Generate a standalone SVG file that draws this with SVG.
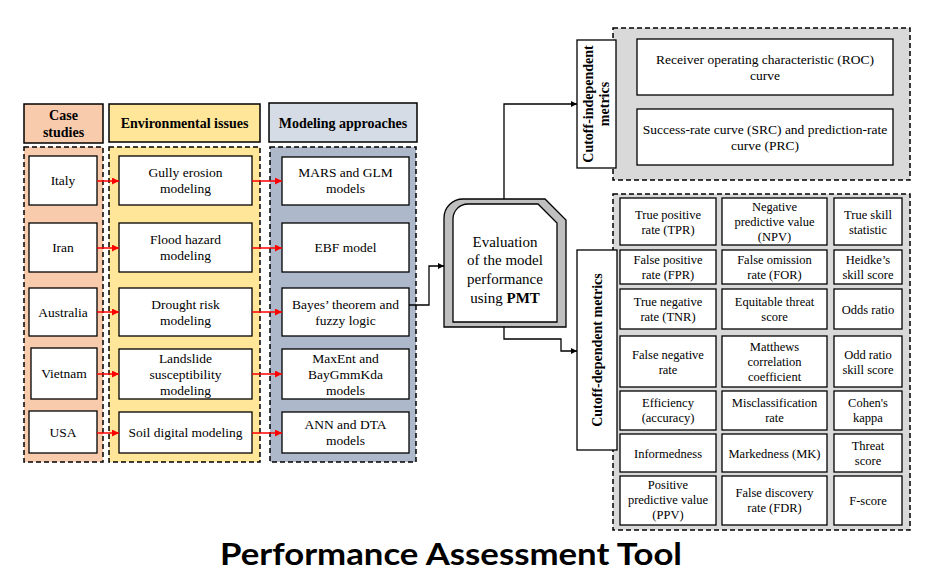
<svg xmlns="http://www.w3.org/2000/svg" width="935" height="587" viewBox="0 0 935 587">
<defs>
<marker id="ar" viewBox="0 0 10 10" refX="10" refY="5" markerWidth="7" markerHeight="7" markerUnits="userSpaceOnUse" orient="auto"><path d="M0,0 L10,5 L0,10 Z" fill="#ff0000"/></marker>
<marker id="ab" viewBox="0 0 10 10" refX="10" refY="5" markerWidth="6" markerHeight="6" markerUnits="userSpaceOnUse" orient="auto"><path d="M0,0 L10,5 L0,10 Z" fill="#000"/></marker>
<style>
text{fill:#000;text-anchor:middle}
.t{font-size:13.5px}
.m{font-size:12.5px}
.h{font-size:14px;font-weight:bold}
.box{fill:#fff;stroke:#000;stroke-width:1.3}
.hd{stroke:#000;stroke-width:1.5}
.dash{stroke:#000;stroke-width:1.5;stroke-dasharray:5,3}
.red{stroke:#ff0000;stroke-width:1.5;fill:none;marker-end:url(#ar)}
.blk{stroke:#000;stroke-width:1.3;fill:none;marker-end:url(#ab)}
.title{font-weight:bold;font-size:31px}
</style>
</defs>
<rect width="935" height="587" fill="#fff"/>

<g id="case-studies">
<rect x="24" y="104" width="79" height="39" fill="#f8cbad" class="hd"/>
<text font-family="Liberation Serif" class="h" x="63.5" y="120">Case</text>
<text font-family="Liberation Serif" class="h" x="63.5" y="137">studies</text>
<rect x="24" y="147" width="79" height="315" fill="#f8cbad" class="dash"/>
<g id="italy"><rect class="box" x="29" y="156" width="68" height="49"/><text font-family="Liberation Serif" class="t" x="63" y="185">Italy</text></g>
<g id="iran"><rect class="box" x="29" y="223" width="68" height="49"/><text font-family="Liberation Serif" class="t" x="63" y="252">Iran</text></g>
<g id="australia"><rect class="box" x="29" y="288" width="68" height="48"/><text font-family="Liberation Serif" class="t" x="63" y="317">Australia</text></g>
<g id="vietnam"><rect class="box" x="31" y="348" width="66" height="51"/><text font-family="Liberation Serif" class="t" x="64" y="378">Vietnam</text></g>
<g id="usa"><rect class="box" x="29" y="411" width="68" height="42"/><text font-family="Liberation Serif" class="t" x="63" y="437">USA</text></g>
</g>

<g id="environmental-issues">
<rect x="109" y="104" width="151" height="38" fill="#ffe699" class="hd"/>
<text font-family="Liberation Serif" class="h" x="184.5" y="128">Environmental issues</text>
<rect x="109" y="147" width="151" height="315" fill="#ffe699" class="dash"/>
<g id="gully"><rect class="box" x="119" y="156" width="133" height="49"/><text font-family="Liberation Serif" class="t" x="185.5" y="177">Gully erosion</text><text font-family="Liberation Serif" class="t" x="185.5" y="193">modeling</text></g>
<g id="flood"><rect class="box" x="119" y="223" width="133" height="49"/><text font-family="Liberation Serif" class="t" x="185.5" y="244">Flood hazard</text><text font-family="Liberation Serif" class="t" x="185.5" y="260">modeling</text></g>
<g id="drought"><rect class="box" x="119" y="288" width="133" height="48"/><text font-family="Liberation Serif" class="t" x="185.5" y="309">Drought risk</text><text font-family="Liberation Serif" class="t" x="185.5" y="325">modeling</text></g>
<g id="landslide"><rect class="box" x="119" y="349" width="133" height="50"/><text font-family="Liberation Serif" class="t" x="185.5" y="363">Landslide</text><text font-family="Liberation Serif" class="t" x="185.5" y="379">susceptibility</text><text font-family="Liberation Serif" class="t" x="185.5" y="395">modeling</text></g>
<g id="soil"><rect class="box" x="119" y="412" width="133" height="41"/><text font-family="Liberation Serif" class="t" x="185.5" y="437">Soil digital modeling</text></g>
</g>

<g id="modeling-approaches">
<rect x="269" y="103" width="148" height="39" fill="#d6dce5" class="hd"/>
<text font-family="Liberation Serif" class="h" x="343" y="128">Modeling approaches</text>
<rect x="270" y="147" width="146" height="315" fill="#adb9ca" class="dash"/>
<g id="mars"><rect class="box" x="282" y="157" width="127" height="48"/><text font-family="Liberation Serif" class="t" x="345.5" y="177">MARS and GLM</text><text font-family="Liberation Serif" class="t" x="345.5" y="193">models</text></g>
<g id="ebf"><rect class="box" x="282" y="223" width="127" height="49"/><text font-family="Liberation Serif" class="t" x="345.5" y="252">EBF model</text></g>
<g id="bayes"><rect class="box" x="282" y="288" width="127" height="48"/><text font-family="Liberation Serif" class="t" x="345.5" y="309">Bayes’ theorem and</text><text font-family="Liberation Serif" class="t" x="345.5" y="325">fuzzy logic</text></g>
<g id="maxent"><rect class="box" x="282" y="349" width="127" height="50"/><text font-family="Liberation Serif" class="t" x="345.5" y="363">MaxEnt and</text><text font-family="Liberation Serif" class="t" x="345.5" y="379">BayGmmKda</text><text font-family="Liberation Serif" class="t" x="345.5" y="395">models</text></g>
<g id="ann"><rect class="box" x="282" y="412" width="127" height="41"/><text font-family="Liberation Serif" class="t" x="345.5" y="429">ANN and DTA</text><text font-family="Liberation Serif" class="t" x="345.5" y="445">models</text></g>
</g>

<g id="evaluation">
<path d="M444,218 A19,19 0 0 1 463,199 L545,199 L566,220 L566,327 L444,327 Z" fill="#bfbfbf" stroke="#000" stroke-width="1.3"/>
<path d="M453,219 A15,15 0 0 1 468,204 L538,204 L557,223 L557,322 L453,322 Z" fill="#fff" stroke="#000" stroke-width="1.3"/>
<text font-family="Liberation Serif" x="505" y="247" font-size="15">Evaluation</text>
<text font-family="Liberation Serif" x="505" y="265" font-size="15">of the model</text>
<text font-family="Liberation Serif" x="505" y="284" font-size="15">performance</text>
<text font-family="Liberation Serif" x="505" y="303" font-size="15">using <tspan font-weight="bold">PMT</tspan></text>
</g>

<g id="cutoff-independent">
<rect x="613" y="28" width="297" height="152" fill="#d9d9d9" class="dash"/>
<rect class="box" x="577" y="40" width="39" height="128"/>
<text font-family="Liberation Serif" class="h" transform="translate(596,104) rotate(-90)" x="0" y="-3">Cutoff-independent</text>
<text font-family="Liberation Serif" class="h" transform="translate(596,104) rotate(-90)" x="0" y="13">metrics</text>
<g id="roc"><rect class="box" x="637" y="39" width="256" height="56"/><text font-family="Liberation Serif" class="t" x="765" y="64">Receiver operating characteristic (ROC)</text><text font-family="Liberation Serif" class="t" x="765" y="80">curve</text></g>
<g id="src"><rect class="box" x="637" y="109" width="256" height="56"/><text font-family="Liberation Serif" class="t" x="765" y="134">Success-rate curve (SRC) and prediction-rate</text><text font-family="Liberation Serif" class="t" x="765" y="150">curve (PRC)</text></g>
</g>

<g id="cutoff-dependent">
<rect x="613" y="194" width="297" height="336" fill="#d9d9d9" class="dash"/>
<rect class="box" x="577" y="250" width="40" height="200"/>
<text font-family="Liberation Serif" class="h" transform="translate(597,350) rotate(-90)" x="0" y="5">Cutoff-dependent metrics</text>

<g id="r1">
<rect class="box" x="620" y="198" width="96" height="47"/><text font-family="Liberation Serif" class="m" x="668" y="219">True positive</text><text font-family="Liberation Serif" class="m" x="668" y="234">rate (TPR)</text>
<rect class="box" x="722" y="198" width="105" height="47"/><text font-family="Liberation Serif" class="m" x="774.5" y="211">Negative</text><text font-family="Liberation Serif" class="m" x="774.5" y="226">predictive value</text><text font-family="Liberation Serif" class="m" x="774.5" y="241">(NPV)</text>
<rect class="box" x="834" y="198" width="68" height="47"/><text font-family="Liberation Serif" class="m" x="868" y="219">True skill</text><text font-family="Liberation Serif" class="m" x="868" y="234">statistic</text>
</g>
<g id="r2">
<rect class="box" x="620" y="250" width="96" height="34"/><text font-family="Liberation Serif" class="m" x="668" y="264">False positive</text><text font-family="Liberation Serif" class="m" x="668" y="279">rate (FPR)</text>
<rect class="box" x="722" y="250" width="105" height="34"/><text font-family="Liberation Serif" class="m" x="774.5" y="264">False omission</text><text font-family="Liberation Serif" class="m" x="774.5" y="279">rate (FOR)</text>
<rect class="box" x="834" y="250" width="68" height="34"/><text font-family="Liberation Serif" class="m" x="868" y="264">Heidke’s</text><text font-family="Liberation Serif" class="m" x="868" y="279">skill score</text>
</g>
<g id="r3">
<rect class="box" x="620" y="289" width="96" height="40"/><text font-family="Liberation Serif" class="m" x="668" y="306">True negative</text><text font-family="Liberation Serif" class="m" x="668" y="321">rate (TNR)</text>
<rect class="box" x="722" y="289" width="105" height="40"/><text font-family="Liberation Serif" class="m" x="774.5" y="306">Equitable threat</text><text font-family="Liberation Serif" class="m" x="774.5" y="321">score</text>
<rect class="box" x="834" y="289" width="68" height="40"/><text font-family="Liberation Serif" class="m" x="868" y="313.5">Odds ratio</text>
</g>
<g id="r4">
<rect class="box" x="620" y="336" width="96" height="51"/><text font-family="Liberation Serif" class="m" x="668" y="359">False negative</text><text font-family="Liberation Serif" class="m" x="668" y="374">rate</text>
<rect class="box" x="722" y="336" width="105" height="51"/><text font-family="Liberation Serif" class="m" x="774.5" y="351">Matthews</text><text font-family="Liberation Serif" class="m" x="774.5" y="366">correlation</text><text font-family="Liberation Serif" class="m" x="774.5" y="381">coefficient</text>
<rect class="box" x="834" y="336" width="68" height="51"/><text font-family="Liberation Serif" class="m" x="868" y="359">Odd ratio</text><text font-family="Liberation Serif" class="m" x="868" y="374">skill score</text>
</g>
<g id="r5">
<rect class="box" x="620" y="391" width="96" height="39"/><text font-family="Liberation Serif" class="m" x="668" y="407">Efficiency</text><text font-family="Liberation Serif" class="m" x="668" y="422">(accuracy)</text>
<rect class="box" x="722" y="391" width="105" height="39"/><text font-family="Liberation Serif" class="m" x="774.5" y="407">Misclassification</text><text font-family="Liberation Serif" class="m" x="774.5" y="422">rate</text>
<rect class="box" x="834" y="391" width="68" height="39"/><text font-family="Liberation Serif" class="m" x="868" y="407">Cohen's</text><text font-family="Liberation Serif" class="m" x="868" y="422">kappa</text>
</g>
<g id="r6">
<rect class="box" x="620" y="434" width="96" height="38"/><text font-family="Liberation Serif" class="m" x="668" y="457.5">Informedness</text>
<rect class="box" x="722" y="434" width="105" height="38"/><text font-family="Liberation Serif" class="m" x="774.5" y="457.5">Markedness (MK)</text>
<rect class="box" x="834" y="434" width="68" height="38"/><text font-family="Liberation Serif" class="m" x="868" y="450">Threat</text><text font-family="Liberation Serif" class="m" x="868" y="465">score</text>
</g>
<g id="r7">
<rect class="box" x="620" y="476" width="96" height="49"/><text font-family="Liberation Serif" class="m" x="668" y="489">Positive</text><text font-family="Liberation Serif" class="m" x="668" y="504">predictive value</text><text font-family="Liberation Serif" class="m" x="668" y="519">(PPV)</text>
<rect class="box" x="722" y="476" width="105" height="49"/><text font-family="Liberation Serif" class="m" x="774.5" y="497">False discovery</text><text font-family="Liberation Serif" class="m" x="774.5" y="512">rate (FDR)</text>
<rect class="box" x="834" y="476" width="68" height="49"/><text font-family="Liberation Serif" class="m" x="868" y="505">F-score</text>
</g>
</g>

<g id="connectors">
<line class="red" x1="97" y1="181" x2="119" y2="181"/>
<line class="red" x1="97" y1="248" x2="119" y2="248"/>
<line class="red" x1="97" y1="312" x2="119" y2="312"/>
<line class="red" x1="97" y1="374" x2="119" y2="374"/>
<line class="red" x1="97" y1="433" x2="119" y2="433"/>
<line class="red" x1="252" y1="181" x2="282" y2="181"/>
<line class="red" x1="252" y1="248" x2="282" y2="248"/>
<line class="red" x1="252" y1="312" x2="282" y2="312"/>
<line class="red" x1="252" y1="374" x2="282" y2="374"/>
<line class="red" x1="252" y1="433" x2="282" y2="433"/>
<polyline class="blk" points="409,305 429,305 429,266 444,266"/>
<polyline class="blk" points="504,199 504,104 577,104"/>
<polyline class="blk" points="504,327 504,339 561,339 561,351 577,351"/>
</g>

<text class="title" x="451" y="565" textLength="462" lengthAdjust="spacingAndGlyphs" font-family="Lato">Performance Assessment Tool</text>
</svg>
